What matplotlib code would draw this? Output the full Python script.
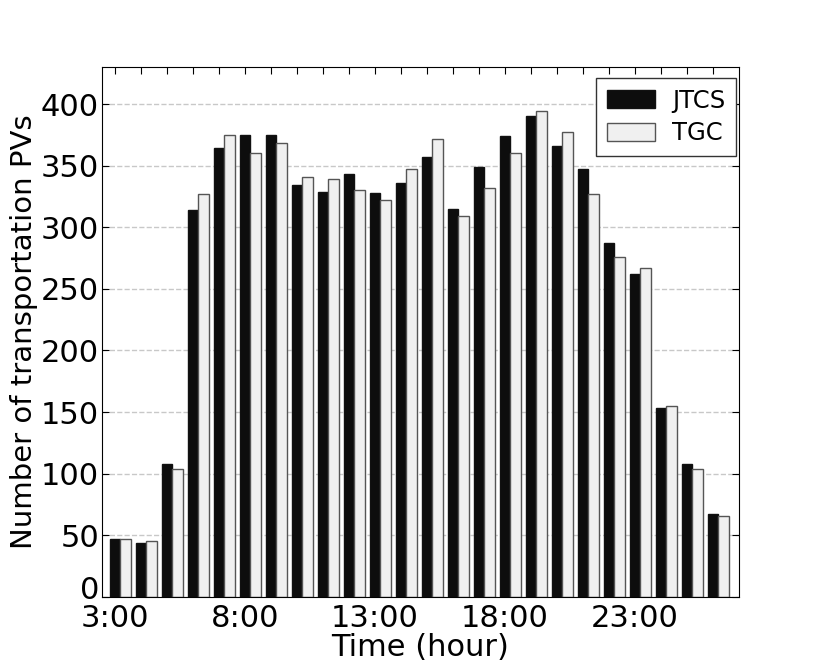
import matplotlib
matplotlib.use("Agg")
import matplotlib.pyplot as plt
import matplotlib.transforms as mtransforms
import numpy as np

# hourly counts, 3:00 through 2:00 next day
hours = list(range(3, 27))
jtcs = [47, 44, 108, 314, 364, 375, 375, 334, 329, 343, 328, 336,
        357, 315, 349, 374, 390, 366, 347, 287, 262, 153, 108, 67]
tgc = [47, 45, 104, 327, 375, 360, 368, 341, 339, 330, 322, 347,
       372, 309, 332, 360, 394, 377, 327, 276, 267, 155, 104, 66]
tick_labels = ["3:00", "8:00", "13:00", "18:00", "23:00"]

plt.rcParams['font.family'] = ['DejaVu Sans']

fig = plt.figure(figsize=(8.22, 6.64), dpi=100)
ax = fig.add_axes([0.124, 0.101, 0.775, 0.798])

x = np.arange(len(hours))
w = 0.41
ax.bar(x, jtcs, w, color='#0d0d0d', edgecolor='#111111', linewidth=1, label='JTCS', zorder=2)
ax.bar(x + w, tgc, w, color='#f0f0f0', edgecolor='#555555', linewidth=1, label='TGC', zorder=2)

ax.set_xlim(-0.5, 24)
ax.set_ylim(0, 430)
ax.set_xticks(x)
ax.set_xticklabels([tick_labels[i // 5] if i % 5 == 0 else '' for i in x])
ax.set_yticks(range(0, 401, 50))
ax.tick_params(direction='in', top=True, right=True, labelsize=22, length=5, pad=2)
ax.tick_params(axis='x', pad=5)
ax.yaxis.grid(True, linestyle='--', color='#c8c8c8', linewidth=1, zorder=0)
ax.set_axisbelow(True)

# nudge the "0" label up a bit so it does not sit on top of "3:00"
zero_lbl = ax.yaxis.get_major_ticks()[0].label1
zero_lbl.set_transform(zero_lbl.get_transform() +
                       mtransforms.ScaledTranslation(0, 9 / 100, fig.dpi_scale_trans))

ax.set_xlabel("Time (hour)", fontsize=22, labelpad=0)
ax.set_ylabel("Number of transportation PVs", fontsize=21, labelpad=2)

leg = ax.legend(loc='upper right', bbox_to_anchor=(0.996, 0.98), borderaxespad=0,
                fontsize=17.5, handlelength=2.0, handleheight=0.75, handletextpad=0.7,
                labelspacing=0.35, borderpad=0.45, fancybox=False, framealpha=1)
leg.get_frame().set_edgecolor('#333333')

fig.savefig("out.png", dpi=100)
